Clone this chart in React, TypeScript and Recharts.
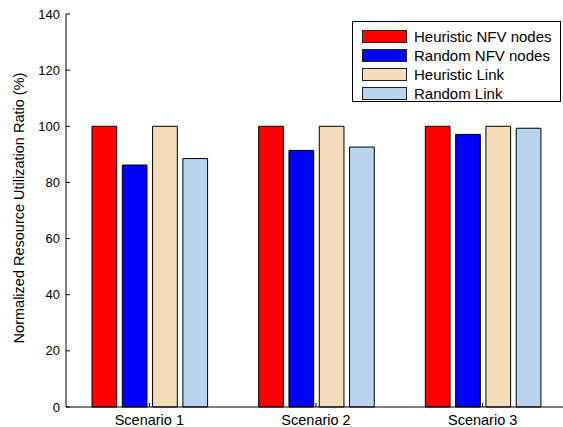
import React from "react";
import { BarChart, Bar, XAxis, YAxis } from "recharts";

const categories = ["Scenario 1", "Scenario 2", "Scenario 3"];
const heuristicNFV = [100, 100, 100];
const randomNFV = [86.2, 91.4, 97.1];
const heuristicLink = [100, 100, 100];
const randomLink = [88.5, 92.6, 99.3];
const yTicks = [0, 20, 40, 60, 80, 100, 120, 140];

const seriesNames = ["Heuristic NFV nodes", "Random NFV nodes", "Heuristic Link", "Random Link"];
const seriesColors = ["#FF0000", "#0000FF", "#F2DDB8", "#BAD4F0"];

const data = categories.map((c, i) => ({
  name: c,
  s0: heuristicNFV[i],
  s1: randomNFV[i],
  s2: heuristicLink[i],
  s3: randomLink[i],
}));

const FONT = "'Liberation Sans', Arial, Helvetica, sans-serif";
const PLOT_LEFT = 66;

const XTick = (props: any) => {
  const { x, y, payload } = props;
  return (
    <g>
      <line x1={x} x2={x} y1={y} y2={y - 4} stroke="#000" strokeWidth={1} />
      <text x={x} y={y + 18} textAnchor="middle" fontFamily={FONT} fontSize={14.5} fill="#000">
        {payload.value}
      </text>
    </g>
  );
};

const XTopTick = (props: any) => {
  const { x, y } = props;
  return <line x1={x} x2={x} y1={y} y2={y + 4} stroke="#000" strokeWidth={1} />;
};

const YTick = (props: any) => {
  const { x, y, payload } = props;
  return (
    <g>
      <line x1={PLOT_LEFT} x2={PLOT_LEFT + 4} y1={y} y2={y} stroke="#000" strokeWidth={1} />
      <text x={x - 6} y={y} dy="0.35em" textAnchor="end" fontFamily={FONT} fontSize={13} fill="#000">
        {payload.value}
      </text>
    </g>
  );
};

const YLabel = () => (
  <text
    x={19}
    y={208}
    transform="rotate(-90 19 208)"
    textAnchor="middle"
    dominantBaseline="central"
    fontFamily={FONT}
    fontSize={14.5}
    fill="#000"
  >
    Normalized Resource Utilization Ratio (%)
  </text>
);

const LegendBox = () => (
  <div
    style={{
      position: "absolute",
      left: 352,
      top: 21,
      width: 209,
      height: 81,
      boxSizing: "border-box",
      border: "1px solid #000",
      background: "#fff",
      paddingTop: 5,
    }}
  >
    {seriesNames.map((n, i) => (
      <div key={n} style={{ display: "flex", alignItems: "center", height: 19 }}>
        <div
          style={{
            marginLeft: 9,
            width: 45,
            height: 13,
            background: seriesColors[i],
            border: "1px solid #222",
            boxSizing: "border-box",
          }}
        />
        <span style={{ marginLeft: 7, fontFamily: FONT, fontSize: 15, color: "#000", lineHeight: "19px" }}>
          {n}
        </span>
      </div>
    ))}
  </div>
);

export default function App() {
  return (
    <div style={{ position: "fixed", left: 0, top: 0, width: 563, height: 427, overflow: "hidden", background: "#fff" }}>
      <div style={{ position: "absolute", left: 0, top: 0, width: 563, height: 427, overflow: "hidden" }}>
        <BarChart
          width={600}
          height={427}
          data={data}
          margin={{ top: 14, right: 34, bottom: 0, left: 0 }}
          barSize={24.7}
          barGap={5.6}
          style={{ overflow: "hidden" }}
        >
          <XAxis
            dataKey="name"
            height={20}
            tickLine={false}
            tickSize={0}
            tickMargin={0}
            tick={<XTick />}
            axisLine={{ stroke: "#000", strokeWidth: 1 }}
            interval={0}
          />
          <XAxis
            xAxisId="top"
            orientation="top"
            dataKey="name"
            height={0}
            tickLine={false}
            tickSize={0}
            tickMargin={0}
            tick={<XTopTick />}
            axisLine={{ stroke: "#000", strokeWidth: 1 }}
            interval={0}
          />
          <YAxis
            width={66}
            domain={[0, 140]}
            ticks={yTicks}
            tickLine={false}
            tickSize={0}
            tickMargin={0}
            tick={<YTick />}
            axisLine={{ stroke: "#000", strokeWidth: 1 }}
            label={<YLabel />}
          />
          {["s0", "s1", "s2", "s3"].map((k, i) => (
            <Bar
              key={k}
              dataKey={k}
              name={seriesNames[i]}
              fill={seriesColors[i]}
              stroke="#000"
              strokeWidth={1}
              isAnimationActive={false}
            />
          ))}
        </BarChart>
      </div>
      <LegendBox />
    </div>
  );
}
